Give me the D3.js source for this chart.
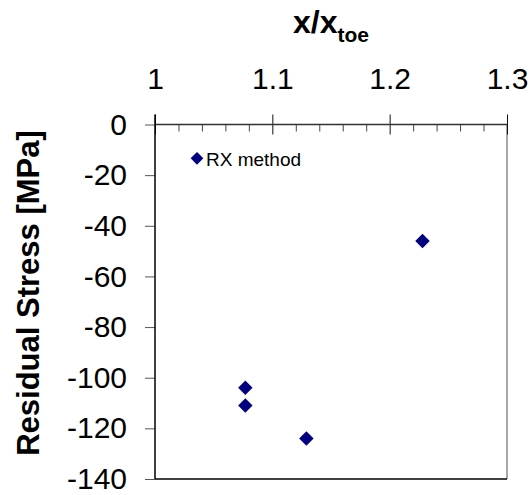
<!DOCTYPE html>
<html>
<head>
  <title>Residual stress vs x/xtoe</title>
  <script src="https://d3js.org/d3.v7.min.js"></script>
  <style>
    body { margin: 0; background: #fff; }
    text { font-family: "Liberation Sans", Arial, sans-serif; }
  </style>
</head>
<body>
  <svg id="chart"></svg>

  <script>
    // data
    var xValues = [1.077, 1.077, 1.129, 1.228];
    var stressValues = [-104, -111, -124, -46];
    var seriesName = 'RX method';

    var xTicks = [1, 1.1, 1.2, 1.3];
    var xMinorTicks = [1.02, 1.04, 1.06, 1.08, 1.12, 1.14, 1.16, 1.18, 1.22, 1.24, 1.26, 1.28];
    var yTicks = [0, -20, -40, -60, -80, -100, -120, -140];

    var data = xValues.map(function(v, i) { return { x: v, y: stressValues[i] }; });

    var svgWidth = 532;
    var svgHeight = 495;
    var navy = '#000080';

    var svg = d3.select('#chart')
      .attr('width', svgWidth)
      .attr('height', svgHeight);

    var x = d3.scaleLinear()
      .domain([1, 1.3])
      .range([155, 507]);

    var y = d3.scaleLinear()
      .domain([0, -140])
      .range([124.5, 479]);

    // plot border: right (grey) and bottom (black)
    svg.append('line')
      .attr('x1', x(1.3)).attr('x2', x(1.3))
      .attr('y1', y(0)).attr('y2', y(-140))
      .attr('stroke', '#8a8a8a').attr('stroke-width', 1.5);
    svg.append('line')
      .attr('x1', x(1)).attr('x2', x(1.3))
      .attr('y1', y(-140)).attr('y2', y(-140))
      .attr('stroke', '#000').attr('stroke-width', 1.5);

    // minor ticks on the top axis, pointing inside
    svg.append('g')
      .attr('transform', 'translate(0,' + y(0) + ')')
      .call(d3.axisBottom(x).tickValues(xMinorTicks).tickSize(7).tickFormat(''))
      .call(function(g) { g.select('.domain').remove(); })
      .selectAll('line').attr('stroke', '#444');

    // top x axis
    var xAxis = svg.append('g')
      .attr('transform', 'translate(0,' + y(0) + ')')
      .call(d3.axisTop(x).tickValues(xTicks).tickSize(10).tickPadding(25.5)
        .tickFormat(function(d) { return String(d); }));
    xAxis.select('.domain').remove();
    xAxis.selectAll('.tick line').attr('y2', 10).attr('y1', -10).attr('stroke', '#111');
    xAxis.selectAll('text').attr('font-size', 30).attr('fill', '#000');

    // y axis
    var yAxis = svg.append('g')
      .attr('transform', 'translate(' + x(1) + ',0)')
      .call(d3.axisLeft(y).tickValues(yTicks).tickSize(10).tickPadding(18)
        .tickFormat(function(d) { return String(d); }));
    yAxis.select('.domain').remove();
    yAxis.selectAll('.tick line').attr('stroke', '#555');
    yAxis.selectAll('text').attr('font-size', 30).attr('fill', '#000');

    // axis lines
    svg.append('line')
      .attr('x1', x(1)).attr('x2', x(1.3))
      .attr('y1', y(0)).attr('y2', y(0))
      .attr('stroke', '#333').attr('stroke-width', 1.5);
    svg.append('line')
      .attr('x1', x(1)).attr('x2', x(1))
      .attr('y1', y(0) - 10).attr('y2', y(-140))
      .attr('stroke', '#000').attr('stroke-width', 1.5);

    // points
    var diamond = d3.symbol().type(d3.symbolSquare).size(105);
    svg.selectAll('.pt')
      .data(data)
      .enter().append('path')
      .attr('class', 'pt')
      .attr('d', diamond)
      .attr('fill', navy)
      .attr('transform', function(d) {
        return 'translate(' + x(d.x) + ',' + y(d.y) + ') rotate(45)';
      });

    // legend
    svg.append('path')
      .attr('d', d3.symbol().type(d3.symbolSquare).size(81))
      .attr('fill', navy)
      .attr('transform', 'translate(197,158.3) rotate(45)');
    svg.append('text')
      .attr('x', 206)
      .attr('y', 166)
      .attr('font-size', 19)
      .attr('fill', '#000')
      .text(seriesName);

    // x title
    var xt = svg.append('text')
      .attr('x', (x(1) + x(1.3)) / 2)
      .attr('y', 33)
      .attr('text-anchor', 'middle')
      .attr('font-weight', 'bold')
      .attr('font-size', 32);
    xt.append('tspan').text('x/x');
    xt.append('tspan').attr('font-size', 21).attr('dy', 9).text('toe');

    // y title
    svg.append('text')
      .attr('transform', 'translate(39,293) rotate(-90)')
      .attr('text-anchor', 'middle')
      .attr('font-weight', 'bold')
      .attr('font-size', 31)
      .text('Residual Stress [MPa]');
  </script>
</body>
</html>
